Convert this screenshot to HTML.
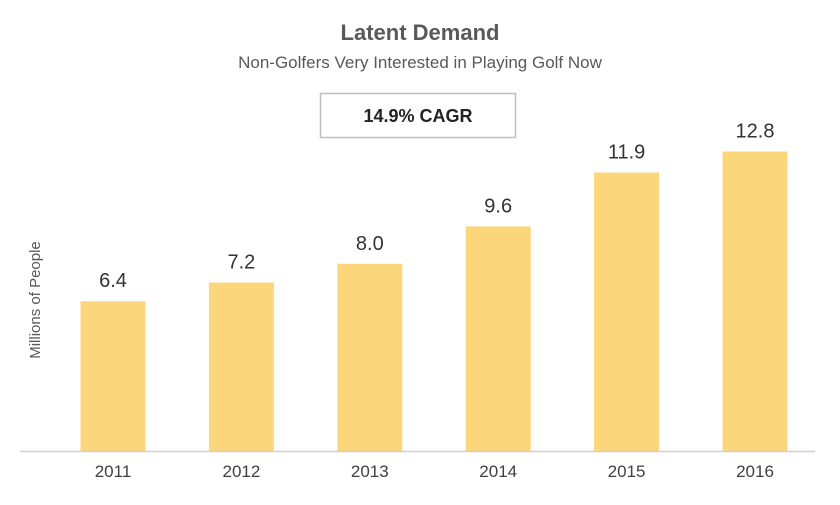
<!DOCTYPE html>
<html><head><meta charset="utf-8"><style>
body{margin:0;background:#fff;}
svg text{font-family:"Liberation Sans",sans-serif;}
</style></head><body>
<svg width="840" height="500" viewBox="0 0 840 500">
<rect x="0" y="0" width="840" height="500" fill="#fff"/>
<text x="420" y="40" text-anchor="middle" font-size="22" font-weight="bold" fill="#595959">Latent Demand</text>
<text x="420" y="68" text-anchor="middle" font-size="17" fill="#595959">Non-Golfers Very Interested in Playing Golf Now</text>
<g>
<rect x="320.5" y="93.5" width="195" height="44" fill="#fff" stroke="#bfbfbf" stroke-width="1.5"/>
<text x="418" y="122" text-anchor="middle" font-size="18" font-weight="bold" fill="#222">14.9% CAGR</text>
</g>
<text transform="translate(40,300) rotate(-90)" text-anchor="middle" font-size="15" fill="#595959">Millions of People</text>
<g id="bars"></g>
<line x1="20" y1="451.5" x2="815" y2="451.5" stroke="#d0d0d0" stroke-width="1.5"/>
</svg>
<script>
const categories=["2011","2012","2013","2014","2015","2016"];
const values=[6.4,7.2,8.0,9.6,11.9,12.8];
const labels=["6.4","7.2","8.0","9.6","11.9","12.8"];
const NS="http://www.w3.org/2000/svg";
const base=451, pxPerUnit=23.4, x0=113, step=128.4, bw=65;
function xScale(i){return x0+i*step;}
function yScale(v){return base-v*pxPerUnit;}
const g=document.getElementById('bars');
categories.forEach((c,i)=>{
  const cx=xScale(i), top=yScale(values[i]);
  const r=document.createElementNS(NS,'rect');
  
  
  r.setAttribute('x',cx-bw/2);r.setAttribute('y',top);
  r.setAttribute('width',bw);r.setAttribute('height',base-top);
  r.setAttribute('fill','#fcd67b');
  g.appendChild(r);
  const t=document.createElementNS(NS,'text');
  
  
  t.setAttribute('x',cx);t.setAttribute('y',top-14);
  t.setAttribute('text-anchor','middle');t.setAttribute('font-size','20');t.setAttribute('fill','#333');
  t.textContent=labels[i];
  g.appendChild(t);
  const xl=document.createElementNS(NS,'text');
  
  
  xl.setAttribute('x',cx);xl.setAttribute('y',477);
  xl.setAttribute('text-anchor','middle');xl.setAttribute('font-size','17');xl.setAttribute('fill','#404040');
  xl.textContent=c;
  g.appendChild(xl);
});
</script>
</body></html>
